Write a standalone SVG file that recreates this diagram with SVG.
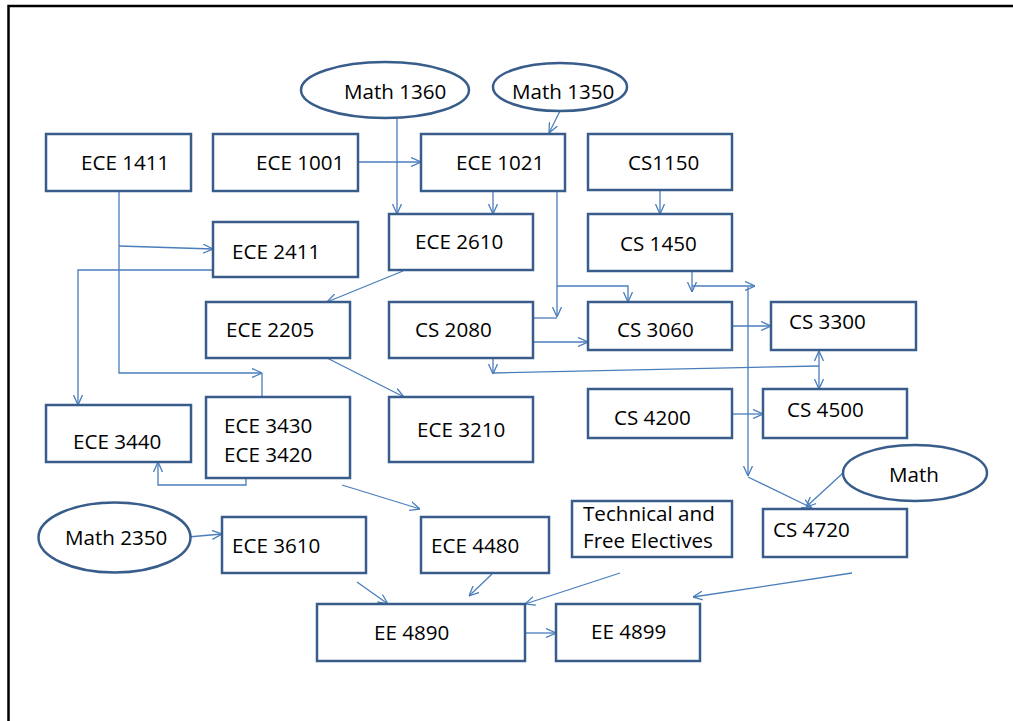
<svg xmlns="http://www.w3.org/2000/svg" width="1013" height="721" viewBox="0 0 1013 721">
<style>
.b{fill:#fff;stroke:#385D8A;stroke-width:2.5}
.t{font-family:"Open Sans","Liberation Sans",sans-serif;font-size:20.6px;fill:#000}
.c{fill:none;stroke:#4A7EBB;stroke-width:1.3}
.a{marker-end:url(#ah)}
</style>
<defs>
<marker id="ah" viewBox="0 0 10 10" refX="10" refY="5" markerWidth="10" markerHeight="10" markerUnits="userSpaceOnUse" orient="auto-start-reverse">
<path d="M0,0.5 L10,5 L0,9.5" fill="none" stroke="#4A7EBB" stroke-width="1.3"/>
</marker>
</defs>
<rect width="1013" height="721" fill="#fff"/>
<path d="M8.5,721 V6 H1013" fill="none" stroke="#000" stroke-width="2.5"/>

<g id="connectors">
<path class="c a" d="M358,162 H421"/>
<path class="c a" d="M397,118 V214"/>
<path class="c a" d="M560,111 L549,133"/>
<path class="c a" d="M493,191 V214"/>
<path class="c a" d="M119,191 V373 H262"/>
<path class="c" d="M262,373 V397"/>
<path class="c a" d="M119,246 L213,249"/>
<path class="c a" d="M222,270 H78 V405"/>
<path class="c a" d="M403,271 L327,302"/>
<path class="c a" d="M557,191 V317"/>
<path class="c" d="M533,318 H557"/>
<path class="c a" d="M557,286 H628 V302"/>
<path class="c a" d="M660,191 V214"/>
<path class="c a" d="M692,271 V292"/>
<path class="c a" d="M692,286 H755"/>
<path class="c a" d="M748,287 V476"/>
<path class="c a" d="M748,477 L812,508"/>
<path class="c a" d="M533,342 H588"/>
<path class="c a" d="M493,358 V374"/>
<path class="c" d="M493,373 L819,366"/>
<path class="c a" d="M819,351 V389" marker-start="url(#ah)"/>
<path class="c a" d="M732,326 H771"/>
<path class="c a" d="M732,414 H763"/>
<path class="c a" d="M843,473 L806,507"/>
<path class="c a" d="M327,358 L404,397"/>
<path class="c a" d="M246,478 V485 H158 V462"/>
<path class="c a" d="M342,485 L420,509"/>
<path class="c a" d="M188,537 L222,534"/>
<path class="c a" d="M357,582 L388,604"/>
<path class="c a" d="M492,574 L469,596"/>
<path class="c a" d="M620,573 L525,604"/>
<path class="c a" d="M852,573 L693,597"/>
<path class="c a" d="M525,633 H556"/>
</g>

<g id="math1360"><ellipse class="b" cx="385" cy="90" rx="84" ry="28"/><text class="t" x="344" y="99">Math 1360</text></g>
<g id="math1350"><ellipse class="b" cx="560" cy="87" rx="67" ry="24"/><text class="t" x="512" y="99">Math 1350</text></g>
<g id="ece1411"><rect class="b" x="46" y="134" width="145" height="57"/><text class="t" x="81" y="170">ECE 1411</text></g>
<g id="ece1001"><rect class="b" x="213" y="134" width="145" height="57"/><text class="t" x="256" y="170">ECE 1001</text></g>
<g id="ece1021"><rect class="b" x="421" y="134" width="144" height="57"/><text class="t" x="456" y="170">ECE 1021</text></g>
<g id="cs1150"><rect class="b" x="588" y="134" width="144" height="56"/><text class="t" x="628" y="170">CS1150</text></g>
<g id="ece2411"><rect class="b" x="213" y="222" width="145" height="55"/><text class="t" x="232" y="259">ECE 2411</text></g>
<g id="ece2610"><rect class="b" x="389" y="214" width="144" height="56"/><text class="t" x="415" y="249">ECE 2610</text></g>
<g id="cs1450"><rect class="b" x="588" y="214" width="144" height="57"/><text class="t" x="620" y="251">CS 1450</text></g>
<g id="ece2205"><rect class="b" x="206" y="302" width="144" height="56"/><text class="t" x="226" y="337">ECE 2205</text></g>
<g id="cs2080"><rect class="b" x="389" y="302" width="144" height="56"/><text class="t" x="415" y="337">CS 2080</text></g>
<g id="cs3060"><rect class="b" x="588" y="302" width="144" height="48"/><text class="t" x="617" y="337">CS 3060</text></g>
<g id="cs3300"><rect class="b" x="771" y="302" width="145" height="48"/><text class="t" x="789" y="329">CS 3300</text></g>
<g id="ece3440"><rect class="b" x="46" y="405" width="145" height="57"/><text class="t" x="73" y="449">ECE 3440</text></g>
<g id="ece3430"><rect class="b" x="206" y="397" width="144" height="81"/><text class="t" x="224" y="433">ECE 3430</text><text class="t" x="224" y="462">ECE 3420</text></g>
<g id="ece3210"><rect class="b" x="389" y="397" width="144" height="65"/><text class="t" x="417" y="437">ECE 3210</text></g>
<g id="cs4200"><rect class="b" x="588" y="389" width="144" height="49"/><text class="t" x="614" y="425">CS 4200</text></g>
<g id="cs4500"><rect class="b" x="763" y="389" width="144" height="49"/><text class="t" x="787" y="417">CS 4500</text></g>
<g id="math"><ellipse class="b" cx="915" cy="473" rx="72" ry="28"/><text class="t" x="889" y="482">Math</text></g>
<g id="math2350"><ellipse class="b" cx="114.5" cy="537.5" rx="76" ry="35"/><text class="t" x="65" y="545">Math 2350</text></g>
<g id="ece3610"><rect class="b" x="222" y="517" width="144" height="56"/><text class="t" x="232" y="553">ECE 3610</text></g>
<g id="ece4480"><rect class="b" x="421" y="517" width="128" height="56"/><text class="t" x="431" y="553">ECE 4480</text></g>
<g id="electives"><rect class="b" x="572" y="501" width="160" height="56"/><text class="t" x="583" y="521">Technical and</text><text class="t" x="583" y="548">Free Electives</text></g>
<g id="cs4720"><rect class="b" x="763" y="509" width="144" height="48"/><text class="t" x="773" y="537">CS 4720</text></g>
<g id="ee4890"><rect class="b" x="317" y="604" width="208" height="57"/><text class="t" x="374" y="640">EE 4890</text></g>
<g id="ee4899"><rect class="b" x="556" y="604" width="144" height="57"/><text class="t" x="591" y="639">EE 4899</text></g>
</svg>
